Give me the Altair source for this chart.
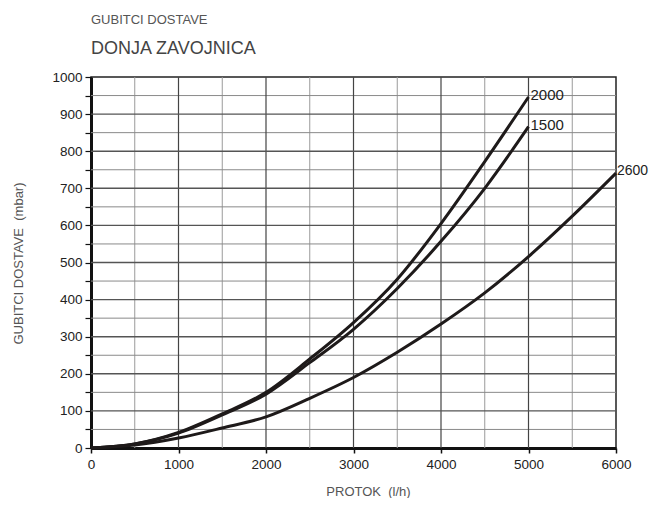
import altair as alt
import pandas as pd

# ---- data ----
flow = [0, 500, 1000, 1500, 2000, 2500, 3000, 3500, 4000, 4500, 5000]
loss_2000 = [0, 11, 42, 92, 150, 240, 338, 455, 605, 772, 946]
loss_1500 = [0, 11, 40, 89, 145, 230, 320, 430, 557, 700, 866]
flow_2600 = [0, 500, 1000, 1500, 2000, 2500, 3000, 3500, 4000, 4500, 5000, 5500, 6000]
loss_2600 = [0, 8, 27, 54, 84, 134, 190, 258, 334, 418, 516, 625, 741]

x_major = [1000, 2000, 3000, 4000, 5000]
x_minor = [500, 1500, 2500, 3500, 4500, 5500]
y_major = [100, 200, 300, 400, 500, 600, 700, 800, 900]
y_minor = [50, 150, 250, 350, 450, 550, 650, 750, 850, 950]

x_ticks = [0, 1000, 2000, 3000, 4000, 5000, 6000]
y_ticks = list(range(0, 1001, 50))

rows = []
for name, xs, ys in [("2000", flow, loss_2000), ("1500", flow, loss_1500), ("2600", flow_2600, loss_2600)]:
    for a, b in zip(xs, ys):
        rows.append({"series": name, "x": a, "y": b})
curves = pd.DataFrame(rows)
labels = curves.groupby("series", as_index=False).last()
labels_mid = labels[labels["series"] != "2600"]
labels_edge = labels[labels["series"] == "2600"]

FONT = "Liberation Sans"

x_scale = alt.Scale(domain=[0, 6000], nice=False, zero=True)
y_scale = alt.Scale(domain=[0, 1000], nice=False, zero=True)

x_axis = alt.Axis(
    values=x_ticks, grid=False, format="d", domainColor="#111", domainWidth=3,
    tickColor="#111", tickSize=5, tickWidth=1.5, labelFontSize=13.5, labelColor="#222",
    labelFont=FONT, labelPadding=4, titleFont=FONT, titleFontSize=13,
    titleFontWeight="normal", titleColor="#555", titleX=277, titleY=47,
    titleBaseline="alphabetic", titleAlign="center", labelFlush=False,
)
y_axis = alt.Axis(
    values=y_ticks, grid=False, format="d", domainColor="#111", domainWidth=3,
    tickColor="#111", tickSize=6, tickWidth=1.2, labelFontSize=13.5, labelColor="#222",
    labelFont=FONT, labelPadding=3,
    labelExpr="datum.value % 100 == 0 ? datum.label : ''",
    titleFont=FONT, titleFontSize=13, titleFontWeight="normal", titleColor="#555",
    titleX=-69, titleY=186, titleAngle=270, titleBaseline="alphabetic",
    titleAlign="center", labelFlush=False,
)

X = alt.X("x:Q", scale=x_scale, axis=x_axis, title="PROTOK\u00a0\u00a0(l/h)")
Y = alt.Y("y:Q", scale=y_scale, axis=y_axis, title="GUBITCI DOSTAVE\u00a0\u00a0(mbar)")

vminor = alt.Chart(pd.DataFrame({"x": x_minor})).mark_rule(color="#9a9a9a", strokeWidth=1).encode(x=X)
hminor = alt.Chart(pd.DataFrame({"y": y_minor})).mark_rule(color="#8a8a8a", strokeWidth=1).encode(y=Y)
vmajor = alt.Chart(pd.DataFrame({"x": x_major})).mark_rule(color="#444", strokeWidth=1.2).encode(x=X)
hmajor = alt.Chart(pd.DataFrame({"y": y_major})).mark_rule(color="#555", strokeWidth=1.4).encode(y=Y)

lines = alt.Chart(curves).mark_line(
    color="#1e1a1a", strokeWidth=3, interpolate="monotone"
).encode(x=X, y=Y, detail="series:N")

text_mid = alt.Chart(labels_mid).mark_text(
    align="left", baseline="middle", dx=2, dy=-2, fontSize=15, font=FONT, color="#222"
).encode(x=X, y=Y, text="series:N")

text_edge = alt.Chart(labels_edge).mark_text(
    align="left", baseline="middle", dx=1, dy=-2, fontSize=14, font=FONT, color="#222"
).encode(x=X, y=Y, text="series:N")

chart = alt.layer(vminor, hminor, vmajor, hmajor, lines, text_mid, text_edge).properties(
    width=525,
    height=371,
    autosize=alt.AutoSizeParams(type="none"),
    padding={"left": 83, "top": 69, "right": 33, "bottom": 50},
    title=alt.Title(
        text="GUBITCI DOSTAVE",
        subtitle="DONJA ZAVOJNICA",
        anchor="start",
        frame="group",
        font=FONT,
        fontSize=13,
        fontWeight="normal",
        color="#555",
        subtitleFont=FONT,
        subtitleFontSize=18,
        subtitleColor="#444",
        subtitlePadding=13,
        offset=12,
    ),
).configure_view(stroke="#222", strokeWidth=1.5)

chart.save("out.html", embed_options={"renderer": "svg", "actions": False})
